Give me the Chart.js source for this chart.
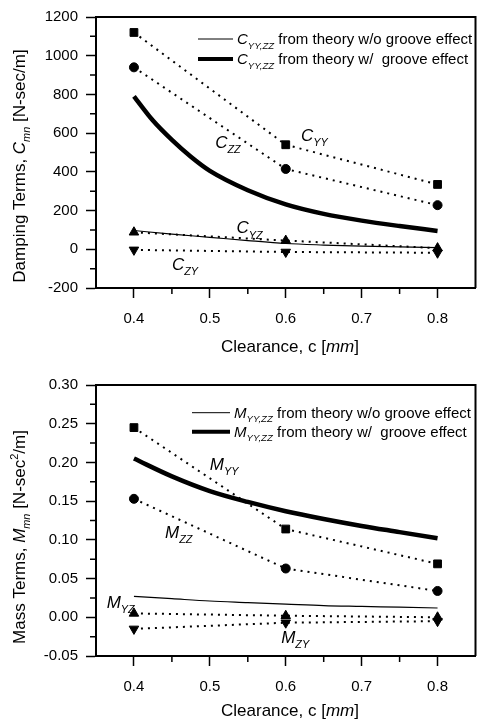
<!DOCTYPE html>
<html><head><meta charset="utf-8">
<script src="https://cdn.jsdelivr.net/npm/chart.js@4/dist/chart.umd.min.js"></script>
<style>
html,body{margin:0;padding:0;background:#fff;width:482px;height:722px;overflow:hidden;}
canvas{display:block;position:absolute;left:0;}
#c1{top:0;} #c2{top:360px;}
</style></head><body>
<canvas id="c1" width="482" height="360"></canvas>
<canvas id="c2" width="482" height="362"></canvas>
<script>
// ---------- data ----------
const clearance = [0.4, 0.6, 0.8];
const C_YY = [1120, 540, 335];
const C_ZZ = [940, 415, 228];
const C_YZ = [88, 45, 6];
const C_ZY = [-3, -14, -18];
const curveXC = [0.4, 0.425, 0.45, 0.475, 0.5, 0.55, 0.6, 0.65, 0.7, 0.75, 0.8];
const C_withGroove = [790, 665, 565, 478, 405, 305, 232, 183, 148, 120, 95];
const curveX = [0.4, 0.45, 0.5, 0.55, 0.6, 0.65, 0.7, 0.75, 0.8];
const C_noGroove = [97, 78, 62, 45, 30, 22, 16, 12, 9];
const M_YY = [0.245, 0.114, 0.069];
const M_ZZ = [0.153, 0.063, 0.034];
const M_YZ = [0.005, 0.002, 0.000];
const M_ZY = [-0.015, -0.007, -0.005];
const M_withGroove = [0.205, 0.182, 0.163, 0.149, 0.137, 0.127, 0.118, 0.110, 0.102];
const M_noGroove = [0.027, 0.024, 0.021, 0.019, 0.017, 0.015, 0.014, 0.013, 0.012];
const xTicks = [0.4, 0.5, 0.6, 0.7, 0.8];
const xMinor = [0.45, 0.55, 0.65, 0.75];
const cTicks = [-200, 0, 200, 400, 600, 800, 1000, 1200];
const cMinor = [-100, 100, 300, 500, 700, 900, 1100];
const mTicks = [-0.05, 0, 0.05, 0.10, 0.15, 0.20, 0.25, 0.30];
const mMinor = [-0.025, 0.025, 0.075, 0.125, 0.175, 0.225, 0.275];

// text content
const xTitle = [["Clearance, c [", "n"], ["mm", "i"], ["]", "n"]];
const cTitle = [["Damping Terms, ", "n"], ["C", "i"], ["mn", "sub"], [" [N-sec/m]", "n"]];
const mTitle = [["Mass Terms, ", "n"], ["M", "i"], ["mn", "sub"], [" [N-sec", "n"], ["2", "sup"], ["/m]", "n"]];
const cLegend = [
  [["C", "i"], ["YY,ZZ", "sub"], [" from theory w/o groove effect", "n"]],
  [["C", "i"], ["YY,ZZ", "sub"], [" from theory w/  groove effect", "n"]]
];
const mLegend = [
  [["M", "i"], ["YY,ZZ", "sub"], [" from theory w/o groove effect", "n"]],
  [["M", "i"], ["YY,ZZ", "sub"], [" from theory w/  groove effect", "n"]]
];
// annotation anchors in data units
const cNotes = [["C", "YY", 0.62, 560], ["C", "ZZ", 0.507, 525], ["C", "YZ", 0.535, 82], ["C", "ZY", 0.45, -108]];
const mNotes = [["M", "YY", 0.50, 0.190], ["M", "ZZ", 0.441, 0.102], ["M", "YZ", 0.364, 0.012], ["M", "ZY", 0.594, -0.033]];

// ---------- helpers ----------
const FONT = '"Liberation Sans", Arial, sans-serif';
const pts = (xs, ys) => xs.map((x, i) => ({x: x, y: ys[i]}));

function rich(ctx, parts, x, y, base, draw) {
  let cx = x;
  for (const [t, k] of parts) {
    let size = base, italic = false, dy = 0;
    if (k === 'i') italic = true;
    if (k === 'sub') { italic = true; size = base * 0.64; dy = base * 0.3; }
    if (k === 'sup') { size = base * 0.64; dy = -base * 0.4; }
    ctx.font = (italic ? 'italic ' : '') + size + 'px ' + FONT;
    if (draw) ctx.fillText(t, cx, y + dy);
    cx += ctx.measureText(t).width;
  }
  return cx - x;
}

function dotted(ys, style, rot, r) {
  return {data: pts(clearance, ys), showLine: true, borderColor: '#000', backgroundColor: '#000',
    borderWidth: 2, borderDash: [2, 5], pointStyle: style, pointRotation: rot, pointRadius: r,
    pointBorderWidth: 1, pointBorderColor: '#000', pointBackgroundColor: '#000', tension: 0};
}
function curve(xs, ys, w) {
  return {data: pts(xs, ys), showLine: true, borderColor: '#000', borderWidth: w, pointRadius: 0,
    cubicInterpolationMode: 'monotone'};
}

function makeScales(yMin, yMax, yTicks, fmt, xH) {
  return {
    x: {type: 'linear', min: 0.35, max: 0.85,
      afterBuildTicks: s => { s.ticks = xTicks.map(v => ({value: v})); },
      afterFit: s => { s.height = xH; },
      ticks: {font: {family: FONT, size: 15}, color: '#000', padding: 12, autoSkip: false, maxRotation: 0,
        callback: v => Number(v).toFixed(1)},
      grid: {drawOnChartArea: false, tickLength: 10, tickColor: '#000', tickWidth: 1.5},
      border: {color: '#000', width: 2}},
    y: {type: 'linear', min: yMin, max: yMax,
      afterBuildTicks: s => { s.ticks = yTicks.map(v => ({value: v})); },
      afterFit: s => { s.width = 96; },
      ticks: {font: {family: FONT, size: 15}, color: '#000', padding: 8, autoSkip: false,
        callback: fmt},
      grid: {drawOnChartArea: false, tickLength: 10, tickColor: '#000', tickWidth: 1.5},
      border: {color: '#000', width: 2}}
  };
}

function decorPlugin(cfg) {
  return {
    id: 'decor',
    afterDraw(chart) {
      const ctx = chart.ctx, a = chart.chartArea, xs = chart.scales.x, ys = chart.scales.y;
      ctx.save();
      ctx.fillStyle = '#000'; ctx.strokeStyle = '#000';
      // frame top and right
      ctx.lineWidth = 2;
      ctx.beginPath();
      ctx.moveTo(a.left, a.top); ctx.lineTo(a.right, a.top); ctx.lineTo(a.right, a.bottom);
      ctx.stroke();
      // minor ticks
      ctx.lineWidth = 1.5;
      ctx.beginPath();
      for (const v of xMinor) { const px = xs.getPixelForValue(v); ctx.moveTo(px, a.bottom); ctx.lineTo(px, a.bottom + 6); }
      for (const v of cfg.yMinor) { const py = ys.getPixelForValue(v); ctx.moveTo(a.left, py); ctx.lineTo(a.left - 6, py); }
      ctx.stroke();
      // legend
      ctx.textBaseline = 'alphabetic'; ctx.textAlign = 'left';
      cfg.legend.forEach((parts, i) => {
        const ly = cfg.legY[i];
        ctx.lineWidth = i === 0 ? 1 : 4;
        ctx.beginPath(); ctx.moveTo(cfg.legX0, ly); ctx.lineTo(cfg.legX1, ly); ctx.stroke();
        rich(ctx, parts, cfg.legX1 + 4, ly + 5, 15, true);
      });
      // annotations
      for (const [m, s, dx, dy] of cfg.notes) {
        rich(ctx, [[m, 'i'], [s, 'sub']], xs.getPixelForValue(dx), ys.getPixelForValue(dy), 17, true);
      }
      // x title
      const w = rich(ctx, xTitle, 0, 0, 17, false);
      rich(ctx, xTitle, cfg.xTitleX - w / 2, cfg.xTitleY, 17, true);
      // y title (rotated)
      const wy = rich(ctx, cfg.yTitle, 0, 0, 17, false);
      ctx.translate(25, cfg.yTitleC);
      ctx.rotate(-Math.PI / 2);
      rich(ctx, cfg.yTitle, -wy / 2, 0, 17, true);
      ctx.restore();
    }
  };
}

Chart.defaults.animation = false;
Chart.defaults.font.family = FONT;

new Chart(document.getElementById('c1'), {
  type: 'scatter',
  data: {datasets: [
    curve(curveX, C_noGroove, 1.2),
    curve(curveXC, C_withGroove, 4.5),
    dotted(C_YY, 'rect', 0, 5.5),
    dotted(C_ZZ, 'circle', 0, 4.5),
    dotted(C_YZ, 'triangle', 0, 5.5),
    dotted(C_ZY, 'triangle', 180, 5.5)
  ]},
  options: {
    responsive: false, devicePixelRatio: 1,
    layout: {padding: {top: 15, right: 2, left: 0, bottom: 0}},
    plugins: {legend: {display: false}, tooltip: {enabled: false}},
    scales: makeScales(-200, 1200, cTicks, v => String(v), 72)
  },
  plugins: [decorPlugin({yMinor: cMinor, legend: cLegend, legX0: 198, legX1: 233, legY: [39, 59],
    notes: cNotes, xTitleX: 290, xTitleY: 352, yTitle: cTitle, yTitleC: 166})]
});

new Chart(document.getElementById('c2'), {
  type: 'scatter',
  data: {datasets: [
    curve(curveX, M_noGroove, 1.2),
    curve(curveX, M_withGroove, 4.5),
    dotted(M_YY, 'rect', 0, 5.5),
    dotted(M_ZZ, 'circle', 0, 4.5),
    dotted(M_YZ, 'triangle', 0, 5.5),
    dotted(M_ZY, 'triangle', 180, 5.5)
  ]},
  options: {
    responsive: false, devicePixelRatio: 1,
    layout: {padding: {top: 25, right: 2, left: 0, bottom: 0}},
    plugins: {legend: {display: false}, tooltip: {enabled: false}},
    scales: makeScales(-0.05, 0.30, mTicks, v => Number(v).toFixed(2), 66)
  },
  plugins: [decorPlugin({yMinor: mMinor, legend: mLegend, legX0: 192, legX1: 230, legY: [52.7, 71.7],
    notes: mNotes, xTitleX: 290, xTitleY: 356, yTitle: mTitle, yTitleC: 177})]
});
</script>
</body></html>
